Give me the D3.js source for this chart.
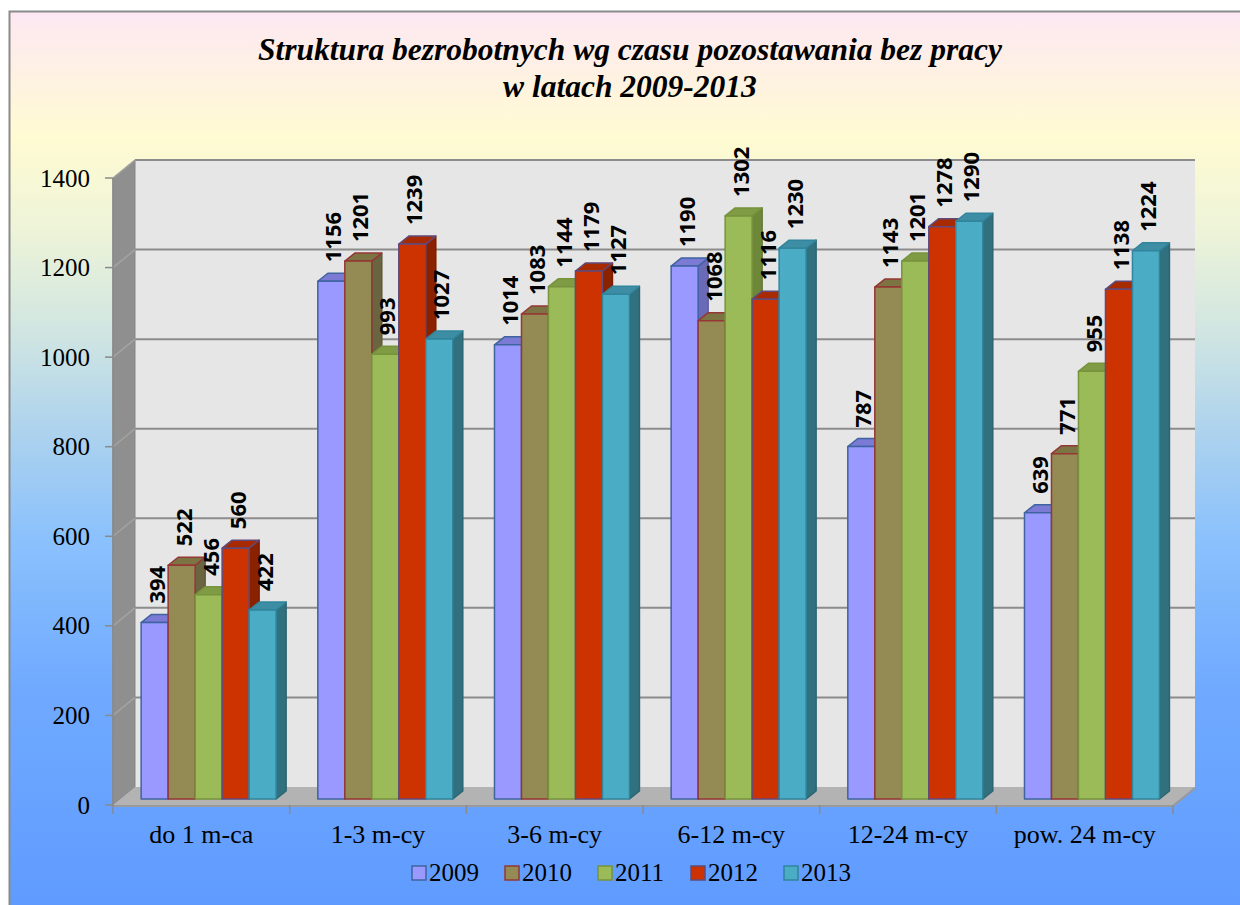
<!DOCTYPE html>
<html><head><meta charset="utf-8">
<script src="https://cdn.jsdelivr.net/npm/d3@7"></script>
<style>html,body{margin:0;padding:0;background:#fff;}svg{display:block;}</style>
</head><body>
<svg id="c" width="1240" height="905"></svg>
<script>
const categories = ["do 1 m-ca","1-3 m-cy","3-6 m-cy","6-12 m-cy","12-24 m-cy","pow. 24 m-cy"];
const seriesNames = ["2009","2010","2011","2012","2013"];
const s2009 = [394,1156,1014,1190,787,639];
const s2010 = [522,1201,1083,1068,1143,771];
const s2011 = [456,993,1144,1302,1201,955];
const s2012 = [560,1239,1179,1116,1278,1138];
const s2013 = [422,1027,1127,1230,1290,1224];
const yTicks = [0,200,400,600,800,1000,1200,1400];
const titleLines = ["Struktura bezrobotnych wg czasu pozostawania bez pracy","w latach 2009-2013"];

const seriesData = [s2009,s2010,s2011,s2012,s2013];
const styles = [
  {front:"#9999ff", top:"#7b7bd6", side:"#6a6ab8", stroke:"#3f64a0"},
  {front:"#948a54", top:"#7d7444", side:"#6b6440", stroke:"#953735"},
  {front:"#9bbb59", top:"#7f9c44", side:"#6e883a", stroke:"#77933c"},
  {front:"#cc3300", top:"#a82a00", side:"#8a2200", stroke:"#604a7b"},
  {front:"#4bacc6", top:"#3d8ea4", side:"#31707f", stroke:"#31859c"}
];
const SERIF = "'Liberation Serif','Times New Roman',Times,serif";

const svg = d3.select("#c");
const defs = svg.append("defs");
const g = defs.append("linearGradient").attr("id","bg").attr("x1",0).attr("y1",0).attr("x2",0).attr("y2",1);
[[0,"#fde8f3"],[0.14,"#fffbd2"],[0.24,"#eef4d8"],[0.36,"#cfe5e2"],[0.47,"#acd2ee"],[0.58,"#8cc2fc"],[0.75,"#70aaff"],[1,"#5f9bff"]]
  .forEach(([o,c])=>g.append("stop").attr("offset",o).attr("stop-color",c));

svg.append("rect").attr("x",9.5).attr("y",11.5).attr("width",1240).attr("height",900)
  .attr("fill","url(#bg)").attr("stroke","#8a8a8a").attr("stroke-width",2);

// title
svg.append("g").selectAll("text").data(titleLines).join("text")
  .attr("x",630).attr("y",(d,i)=>60+i*37)
  .attr("text-anchor","middle")
  .attr("font-family",SERIF)
  .attr("font-weight","bold").attr("font-style","italic").attr("font-size",31.5)
  .attr("fill","#000").text(d=>d);

// geometry
const DX = 22, DY = 18;
const x = d3.scaleBand().domain(categories).range([113,1173]).paddingInner(0).paddingOuter(0);
const y = d3.scaleLinear().domain([0,1400]).range([805,178]);
const gap = 41.7;
const xs = d3.scaleBand().domain(seriesNames).range([gap/2, x.bandwidth()-gap/2]).padding(0);

const x0 = 113, x1 = 1173;
// back wall
svg.append("rect").attr("x",x0+DX).attr("y",y(1400)-DY).attr("width",x1-x0).attr("height",y(0)-y(1400))
  .attr("fill","#e6e6e6");
// left wall
svg.append("polygon")
  .attr("points",[[x0,y(1400)],[x0+DX,y(1400)-DY],[x0+DX,y(0)-DY],[x0,y(0)]].map(p=>p.join(",")).join(" "))
  .attr("fill","#8f8f8f").attr("stroke","#858585").attr("stroke-width",1);
// floor
svg.append("polygon")
  .attr("points",[[x0,y(0)],[x1,y(0)],[x1+DX,y(0)-DY],[x0+DX,y(0)-DY]].map(p=>p.join(",")).join(" "))
  .attr("fill","#b3b3b3");
svg.append("line").attr("x1",x0).attr("x2",x1).attr("y1",y(0)+1).attr("y2",y(0)+1).attr("stroke","#9a9a9a").attr("stroke-width",2);
svg.append("line").attr("x1",x1).attr("x2",x1+DX).attr("y1",y(0)+1).attr("y2",y(0)+1-DY).attr("stroke","#9a9a9a").attr("stroke-width",2);

// gridlines
const grid = svg.append("g");
yTicks.filter(v=>v>0).forEach(v=>{
  grid.append("line").attr("x1",x0+DX).attr("x2",x1+DX).attr("y1",y(v)-DY).attr("y2",y(v)-DY)
    .attr("stroke","#8c8c8c").attr("stroke-width",2);
  grid.append("line").attr("x1",x0).attr("x2",x0+DX).attr("y1",y(v)).attr("y2",y(v)-DY)
    .attr("stroke","#a3a3a3").attr("stroke-width",1.5);
});
// y axis line and ticks
svg.append("line").attr("x1",x0).attr("x2",x0).attr("y1",y(1400)).attr("y2",y(0)+1).attr("stroke","#8a8a8a").attr("stroke-width",1.5);
const yAx = svg.append("g");
yTicks.forEach(v=>{
  yAx.append("line").attr("x1",x0-8).attr("x2",x0).attr("y1",y(v)).attr("y2",y(v)).attr("stroke","#8a8a8a").attr("stroke-width",1.5);
  yAx.append("text").attr("x",90).attr("y",y(v)).attr("text-anchor","end").attr("dominant-baseline","central")
    .attr("font-family",SERIF).attr("font-size",25).attr("fill","#000").text(v);
});
// x axis ticks
const xTickPos = categories.map(c=>x(c)).concat([x1]);
xTickPos.forEach(px=>{
  svg.append("line").attr("x1",px).attr("x2",px).attr("y1",y(0)).attr("y2",y(0)+9).attr("stroke","#8a8a8a").attr("stroke-width",1.5);
});
svg.append("g").selectAll("text").data(categories).join("text")
  .attr("x",d=>x(d)+x.bandwidth()/2).attr("y",843).attr("text-anchor","middle")
  .attr("font-family",SERIF).attr("font-size",26).attr("fill","#000").text(d=>d);

// bars
const BO_X = 7.3, BO_Y = 6;   // bar front plane offset
const BD_X = 10, BD_Y = 8;    // bar depth
const bars = svg.append("g");
const labels = [];
categories.forEach((c,ci)=>{
  seriesNames.forEach((s,si)=>{
    const v = seriesData[si][ci];
    const st = styles[si];
    const w = xs.bandwidth();
    const fx = x(c) + xs(s) + BO_X;
    const base = y(0) - BO_Y;
    const top = y(v) - BO_Y;
    const bg = bars.append("g").attr("stroke",st.stroke).attr("stroke-width",1.5).attr("stroke-linejoin","round");
    bg.append("polygon").attr("points",[[fx+w,top],[fx+w+BD_X,top-BD_Y],[fx+w+BD_X,base-BD_Y],[fx+w,base]].map(p=>p.join(",")).join(" "))
      .attr("fill",st.side).attr("stroke",d3.color(st.side).darker(0.3));
    bg.append("polygon").attr("points",[[fx,top],[fx+BD_X,top-BD_Y],[fx+w+BD_X,top-BD_Y],[fx+w,top]].map(p=>p.join(",")).join(" "))
      .attr("fill",st.top);
    bg.append("rect").attr("x",fx).attr("y",top).attr("width",w).attr("height",base-top).attr("fill",st.front);
    labels.push({x:fx+w/2+1, y:top-BD_Y-11, v});
  });
});
svg.append("g").selectAll("text").data(labels).join("text")
  .attr("transform",d=>`translate(${d.x},${d.y}) rotate(-90)`)
  .attr("text-anchor","start").attr("dominant-baseline","central")
  .attr("font-family","'Open Sans','DejaVu Sans',sans-serif").attr("font-weight","bold").attr("font-size",22)
  .attr("fill","#000").text(d=>d.v);

// legend
const lg = svg.append("g");
seriesNames.forEach((s,i)=>{
  const lx = 412 + i*93;
  lg.append("rect").attr("x",lx).attr("y",866).attr("width",14).attr("height",14)
    .attr("fill",styles[i].front).attr("stroke",styles[i].stroke).attr("stroke-width",1.5);
  lg.append("text").attr("x",lx+17).attr("y",881)
    .attr("font-family",SERIF).attr("font-size",25).attr("fill","#000").text(s);
});
</script>
</body></html>
